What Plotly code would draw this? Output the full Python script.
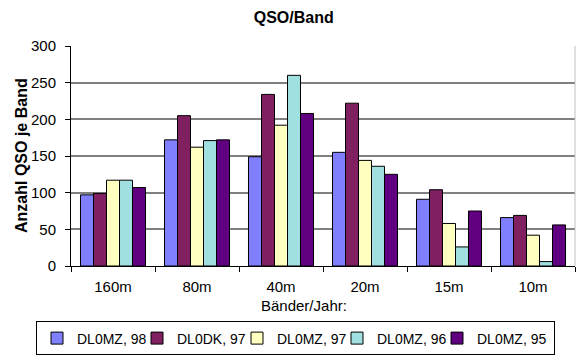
import plotly.graph_objects as go

categories = ["160m", "80m", "40m", "20m", "15m", "10m"]
series_names = ["DL0MZ, 98", "DL0DK, 97", "DL0MZ, 97", "DL0MZ, 96", "DL0MZ, 95"]
dl0mz_98 = [97, 172, 149, 155, 91, 66]
dl0dk_97 = [99, 205, 234, 222, 104, 69]
dl0mz_97 = [117, 162, 192, 144, 58, 42]
dl0mz_96 = [117, 171, 260, 136, 26, 6]
dl0mz_95 = [107, 172, 208, 125, 75, 56]
y_ticks = [0, 50, 100, 150, 200, 250, 300]

series_values = [dl0mz_98, dl0dk_97, dl0mz_97, dl0mz_96, dl0mz_95]
colors = ["#8080FF", "#802060", "#FFFFC0", "#A0E0E0", "#600080"]

FONT = "Liberation Sans, Arial, sans-serif"
PLOT_L, PLOT_W, PLOT_B, PLOT_H = 71, 504, 268, 222

fig = go.Figure()
for i, (name, vals, col) in enumerate(zip(series_names, series_values, colors)):
    last = i == len(series_names) - 1
    fig.add_trace(go.Bar(
        x=categories, y=vals, name=name,
        marker=dict(color=col, line=dict(color="#000000", width=1)),
        legendwidth=72 if last else None,
    ))

fig.update_layout(
    width=576, height=356,
    margin=dict(l=71, r=1, t=46, b=88),
    paper_bgcolor="white", plot_bgcolor="white",
    barmode="group", bargap=0.226, bargroupgap=0,
    font=dict(family=FONT, size=15, color="#000000"),
    title=dict(text="QSO/Band", x=0.51, xanchor="center", xref="container",
               y=1 - 17 / 356, yanchor="middle", yref="container",
               font=dict(family=FONT, size=16, weight="bold")),
    xaxis=dict(
        type="category", showline=True, linecolor="#000000", linewidth=1,
        ticks="outside", ticklen=5, tickcolor="#000000", tickson="boundaries",
        showgrid=False, ticklabelstandoff=7,
        tickfont=dict(family=FONT, size=15),
    ),
    yaxis=dict(
        range=[0, 300], tickvals=y_ticks, showline=True, linecolor="#000000", linewidth=1,
        ticks="outside", ticklen=5, tickcolor="#000000",
        showgrid=True, gridcolor="#808080", gridwidth=1.5, zeroline=False,
        ticklabelstandoff=6, tickfont=dict(family=FONT, size=15),
    ),
    legend=dict(
        orientation="h", xref="paper", yref="paper",
        x=(36 - PLOT_L) / PLOT_W, xanchor="left",
        y=(PLOT_B - 324) / PLOT_H, yanchor="top",
        bordercolor="#000000", borderwidth=1, bgcolor="white",
        entrywidth=55, entrywidthmode="pixels",
        font=dict(family=FONT, size=14), traceorder="normal",
    ),
    showlegend=True,
)

fig.add_annotation(text="Anzahl QSO je Band", xref="paper", yref="paper",
                   x=(21 - PLOT_L) / PLOT_W, y=0.5, xanchor="center", yanchor="middle",
                   textangle=-90, showarrow=False,
                   font=dict(family=FONT, size=16, weight="bold"))
fig.add_annotation(text="Bänder/Jahr:", xref="paper", yref="paper",
                   x=(304 - PLOT_L) / PLOT_W, y=(PLOT_B - 308) / PLOT_H,
                   xanchor="center", yanchor="middle",
                   showarrow=False, font=dict(family=FONT, size=15))

fig.add_shape(type="line", xref="paper", yref="paper", x0=1, x1=1, y0=0, y1=1,
              line=dict(color="#C0C0C0", width=1))

fig.write_html("out.html", config={"displayModeBar": False},
               post_script="document.body.style.margin='0';document.body.style.overflow='hidden';")
